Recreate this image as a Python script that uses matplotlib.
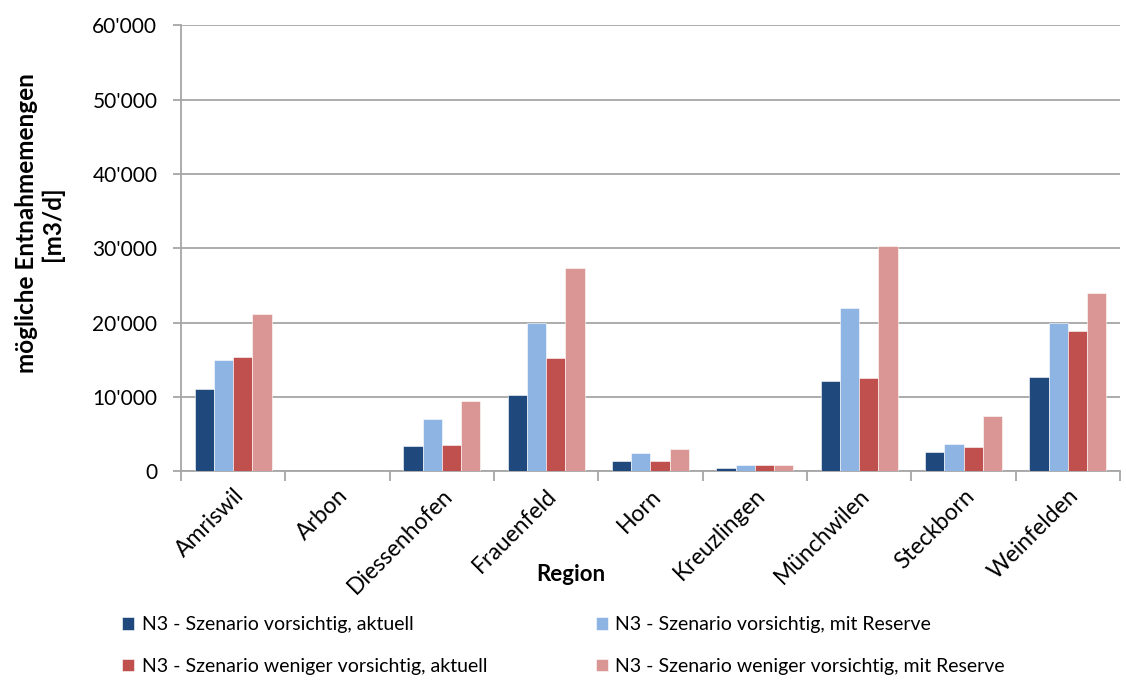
import numpy as np
import matplotlib.pyplot as plt
from matplotlib.ticker import FuncFormatter, MultipleLocator

plt.rcParams['font.family'] = ['Lato', 'DejaVu Sans']

regions = ['Amriswil', 'Arbon', 'Diessenhofen', 'Frauenfeld', 'Horn',
           'Kreuzlingen', 'Münchwilen', 'Steckborn', 'Weinfelden']

vorsichtig_aktuell = [11000, 0, 3400, 10300, 1400, 400, 12200, 2600, 12700]
vorsichtig_reserve = [15000, 0, 7000, 20000, 2400, 800, 22000, 3600, 20000]
weniger_aktuell = [15400, 0, 3500, 15200, 1400, 900, 12600, 3200, 18800]
weniger_reserve = [21200, 0, 9500, 27300, 3000, 900, 30300, 7400, 24000]

series_labels = [
    'N3 - Szenario vorsichtig, aktuell',
    'N3 - Szenario vorsichtig, mit Reserve',
    'N3 - Szenario weniger vorsichtig, aktuell',
    'N3 - Szenario weniger vorsichtig, mit Reserve',
]
colors = ['#1F497D', '#8DB4E2', '#C0504D', '#DA9694']

fig = plt.figure(figsize=(11.26, 6.8), dpi=100)
ax = fig.add_axes([0.1607, 0.307, 0.834, 0.656])

x = np.arange(len(regions))
width = 0.185
all_series = [vorsichtig_aktuell, vorsichtig_reserve, weniger_aktuell, weniger_reserve]
handles = []
for i, (vals, col, lab) in enumerate(zip(all_series, colors, series_labels)):
    b = ax.bar(x + (i - 1.5) * width, vals, width, color=col, label=lab,
               edgecolor='white', linewidth=0.4, zorder=3)
    handles.append(b)

ax.set_xlim(-0.5, len(regions) - 0.5)
ax.set_ylim(0, 60000)
ax.yaxis.set_major_locator(MultipleLocator(10000))
ax.yaxis.set_major_formatter(FuncFormatter(lambda v, p: f"{int(v):,}".replace(',', "'")))
ax.grid(axis='y', color='#A6A6A6', linewidth=1.3, zorder=0)

for s in ['top', 'right']:
    ax.spines[s].set_visible(False)
ax.spines['left'].set_color('#A6A6A6')
ax.spines['bottom'].set_color('#A6A6A6')
ax.spines['left'].set_linewidth(1.3)
ax.spines['bottom'].set_linewidth(1.3)

# category boundary ticks on the x axis, labels at the centres
ax.set_xticks(np.arange(len(regions) + 1) - 0.5)
ax.set_xticklabels([])
ax.set_xticks(x, minor=True)
ax.set_xticklabels(regions, minor=True, rotation=45, ha='right',
                   rotation_mode='anchor', fontsize=16.5)
ax.tick_params(axis='x', which='minor', length=0, pad=10)
ax.tick_params(axis='x', which='major', length=7, color='#A6A6A6', width=1.3)
ax.tick_params(axis='y', length=6, color='#A6A6A6', width=1.3, labelsize=15, pad=11)

ax.set_ylabel('mögliche Entnahmemengen\n[m3/d]', fontsize=17.5, fontweight='bold',
              linespacing=1.1)
ax.yaxis.set_label_coords(-0.125, 0.556)
ax.set_xlabel('Region', fontsize=16, fontweight='bold')
ax.xaxis.set_label_coords(0.415, -0.207)

order = [0, 2, 1, 3]
fig.legend([handles[i] for i in order], [series_labels[i] for i in order],
           ncol=2, loc='lower left', bbox_to_anchor=(0.093, -0.018),
           frameon=False, fontsize=14, handlelength=0.6, handleheight=0.6,
           handletextpad=0.4, labelspacing=1.25, columnspacing=5.6)

fig.savefig('out.png', dpi=100)
